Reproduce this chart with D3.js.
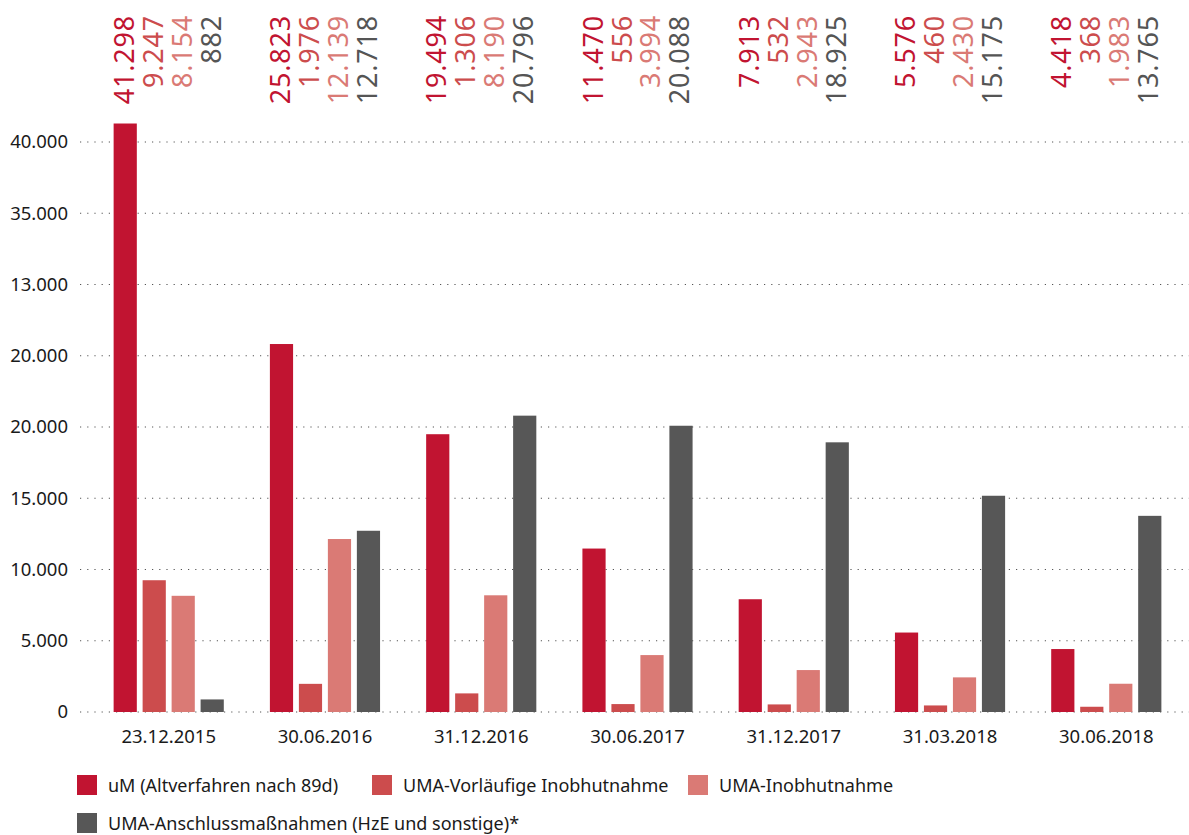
<!DOCTYPE html>
<meta charset="utf-8">
<style>
    body { margin: 0; background: #fff; }
    text { font-family: "Noto Sans", sans-serif; }
    .grid line { stroke: #555; stroke-dasharray: 1.2 6; stroke-width: 1.2; }
</style>
<script src="https://d3js.org/d3.v7.min.js"></script>
<body>
<script>
    var dates = ["23.12.2015", "30.06.2016", "31.12.2016", "30.06.2017", "31.12.2017", "31.03.2018", "30.06.2018"];
    var seriesNames = ["uM (Altverfahren nach 89d)", "UMA-Vorläufige Inobhutnahme", "UMA-Inobhutnahme", "UMA-Anschlussmaßnahmen (HzE und sonstige)*"];
    var colors = ["#c11431", "#cc4c4d", "#da7a75", "#575757"];
    var labelColors = ["#c11431", "#cc4c4d", "#da7a75", "#555555"];

    var altverfahren = [41298, 25823, 19494, 11470, 7913, 5576, 4418];
    var vorlaeufig = [9247, 1976, 1306, 556, 532, 460, 368];
    var inobhut = [8154, 12139, 8190, 3994, 2943, 2430, 1983];
    var anschluss = [882, 12718, 20796, 20088, 18925, 15175, 13765];
    var series = [altverfahren, vorlaeufig, inobhut, anschluss];

    var tickValues = [0, 5000, 10000, 15000, 20000, 25000, 30000, 35000, 40000];
    var tickLabels = ["0", "5.000", "10.000", "15.000", "20.000", "20.000", "13.000", "35.000", "40.000"];

    var fmt = d3.format(",");
    function de(v) { return fmt(v).replace(/,/g, "."); }

    var width = 1189, height = 835;
    var svg = d3.select("body").append("svg").attr("width", width).attr("height", height);

    var x = d3.scaleBand().domain(dates).range([98, 1177]).paddingInner(0.295).paddingOuter(0.1);
    var x1 = d3.scaleBand().domain(d3.range(4)).range([0, x.bandwidth()]).paddingInner(0.2);
    var y = d3.scaleLinear().domain([0, 40000]).range([712, 142]);

    // grid
    svg.append("g").attr("class", "grid")
        .selectAll("line").data(tickValues).enter().append("line")
        .attr("x1", 80).attr("x2", width)
        .attr("y1", function(d) { return y(d); }).attr("y2", function(d) { return y(d); });

    var yAxis = d3.axisLeft(y).tickValues(tickValues)
        .tickFormat(function(d, i) { return tickLabels[i]; }).tickSize(0).tickPadding(0);
    svg.append("g").attr("transform", "translate(68,0)").call(yAxis)
        .call(function(g) { g.select(".domain").remove(); })
        .selectAll("text").attr("font-size", 18.5).attr("fill", "#1a1a1a")
        .style("font-family", "'Noto Sans', sans-serif");

    var groups = svg.append("g").selectAll("g").data(dates).enter().append("g")
        .attr("transform", function(d) { return "translate(" + x(d) + ",0)"; });

    groups.selectAll("rect").data(function(d, i) { return series.map(function(s, k) { return {k: k, v: s[i]}; }); })
        .enter().append("rect")
        .attr("x", function(d) { return x1(d.k); })
        .attr("width", x1.bandwidth())
        .attr("y", function(d) { return y(d.v); })
        .attr("height", function(d) { return y(0) - y(d.v); })
        .attr("fill", function(d) { return colors[d.k]; });

    groups.selectAll("text.val").data(function(d, i) { return series.map(function(s, k) { return {k: k, v: s[i]}; }); })
        .enter().append("text").attr("class", "val")
        .attr("transform", function(d) { return "translate(" + (x1(d.k) + x1.bandwidth() / 2 + 8.5) + ",15) rotate(-90)"; })
        .attr("text-anchor", "end")
        .attr("font-size", 27)
        .attr("letter-spacing", 0.8)
        .attr("fill", function(d) { return labelColors[d.k]; })
        .text(function(d) { return de(d.v); });

    var xAxis = d3.axisBottom(x).tickSize(0).tickPadding(0);
    svg.append("g").attr("transform", "translate(0,726)").call(xAxis)
        .call(function(g) { g.select(".domain").remove(); })
        .selectAll("text").attr("font-size", 18.5).attr("fill", "#1a1a1a").attr("dy", "0.9em")
        .style("font-family", "'Noto Sans', sans-serif");

    // legend
    var legendPos = [[77, 775], [372, 775], [688, 775], [77, 813]];
    var legend = svg.append("g").selectAll("g").data(seriesNames).enter().append("g")
        .attr("transform", function(d, i) { return "translate(" + legendPos[i][0] + "," + legendPos[i][1] + ")"; });
    legend.append("rect").attr("width", 20).attr("height", 20)
        .attr("fill", function(d, i) { return colors[i]; });
    legend.append("text").attr("x", 31).attr("y", 17).attr("font-size", 18).attr("fill", "#1a1a1a")
        .text(function(d) { return d; });
</script>
